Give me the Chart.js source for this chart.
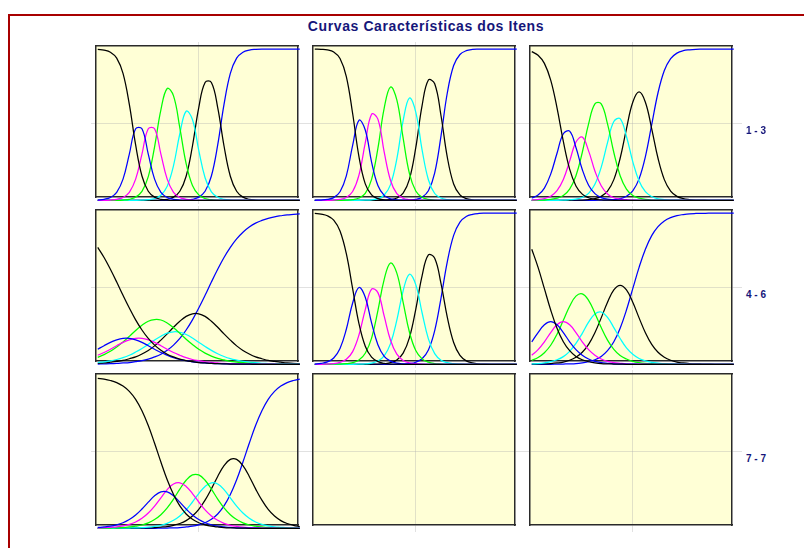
<!DOCTYPE html>
<html>
<head>
<meta charset="utf-8">
<script src="https://cdn.jsdelivr.net/npm/chart.js@4/dist/chart.umd.min.js"></script>
<style>
  html, body { margin: 0; padding: 0; background: #ffffff; }
  body { position: relative; width: 804px; height: 548px; overflow: hidden;
         font-family: "Liberation Sans", Arial, sans-serif; }
  #frame { position: absolute; left: 8px; top: 14px; width: 900px; height: 700px;
           border: 2px solid #a80000; box-sizing: border-box; }
  #title { position: absolute; left: 226px; top: 18px; width: 400px; text-align: center;
           font-size: 14px; line-height: 16px; font-weight: bold; letter-spacing: 0.6px; color: #16167a; }
  .rowlabel { position: absolute; left: 746px; font-size: 10px; line-height: 11px;
              font-weight: bold; color: #16167a; white-space: nowrap; }
  canvas { position: absolute; }
</style>
</head>
<body>
<div id="frame"></div>
<div id="title">Curvas Características dos Itens</div>
<script>
// Ability scale (theta) shared by every item curve
const theta = [-4,-3.75,-3.5,-3.25,-3,-2.75,-2.5,-2.25,-2,-1.75,-1.5,-1.25,-1,-0.75,-0.5,-0.25,0,
               0.25,0.5,0.75,1,1.25,1.5,1.75,2,2.25,2.5,2.75,3,3.25,3.5,3.75,4];

// Category probability curves, one list per response category (1..7)
const item1 = [
  [.998,.993,.979,.940,.839,.634,.366,.161,.060,.021,.007, .002,0,0,0,0,0,0,0,0,0,0, 0,0,0,0,0,0,0,0,0,0,0],
  [.002,.007,.019,.053,.140,.306,.473,.473,.306,.140,.053, .019,.007,.002,0,0,0,0,0,0,0,0, 0,0,0,0,0,0,0,0,0,0,0],
  [0,0,.002,.007,.019,.053,.140,.306,.473,.473,.306, .140,.053,.019,.007,.002,0,0,0,0,0,0, 0,0,0,0,0,0,0,0,0,0,0],
  [0,0,0,0,.002,.007,.021,.059,.157,.354,.598, .739,.690,.479,.243,.098,.036,.012,.004,.001,0,0, 0,0,0,0,0,0,0,0,0,0,0],
  [0,0,0,0,0,0,0,.001,.004,.012,.034, .093,.229,.440,.589,.534,.330,.149,.056,.020,.007,.002, 0,0,0,0,0,0,0,0,0,0,0],
  [0,0,0,0,0,0,0,0,0,0,.002, .007,.021,.060,.159,.359,.613,.779,.779,.613,.359,.159, .060,.021,.007,.002,0,0,0,0,0,0,0],
  [0,0,0,0,0,0,0,0,0,0,0, 0,0,0,.002,.007,.021,.060,.161,.366,.634,.839, .940,.979,.993,.998,1,1,1,1,1,1,1]
];
const item2 = [
  [1,.998,.994,.980,.937,.818,.574,.289,.109,.036,.011, .003,.001,0,0,0,0,0,0,0,0,0, 0,0,0,0,0,0,0,0,0,0,0],
  [0,.002,.006,.018,.057,.162,.363,.529,.465,.253,.098, .033,.010,.003,.001,0,0,0,0,0,0,0, 0,0,0,0,0,0,0,0,0,0,0],
  [0,0,0,.002,.006,.019,.058,.167,.379,.569,.537, .318,.131,.044,.014,.005,.001,0,0,0,0,0, 0,0,0,0,0,0,0,0,0,0,0],
  [0,0,0,0,0,.001,.005,.015,.046,.139,.343, .610,.749,.664,.411,.177,.062,.020,.006,.002,0,0, 0,0,0,0,0,0,0,0,0,0,0],
  [0,0,0,0,0,0,0,0,.001,.003,.011, .035,.104,.274,.527,.676,.583,.334,.136,.045,.015,.005, .001,0,0,0,0,0,0,0,0,0,0],
  [0,0,0,0,0,0,0,0,0,0,0, .001,.005,.015,.047,.140,.348,.626,.795,.771,.559,.284, .108,.036,.011,.003,.001,0,0,0,0,0,0],
  [0,0,0,0,0,0,0,0,0,0,0, 0,0,0,0,.002,.006,.020,.063,.182,.426,.711, .891,.964,.989,.997,.999,1,1,1,1,1,1]
];
const item3 = [
  [.983,.959,.905,.794,.611,.389,.206,.095,.041,.017,.007, .003,.001,0,0,0,0,0,0,0,0,0, 0,0,0,0,0,0,0,0,0,0,0],
  [.015,.035,.081,.173,.311,.440,.457,.349,.204,.100,.044, .018,.008,.004,.001,0,0,0,0,0,0,0, 0,0,0,0,0,0,0,0,0,0,0],
  [.002,.005,.012,.027,.064,.138,.259,.385,.418,.327,.194, .096,.042,.017,.008,.004,.001,0,0,0,0,0, 0,0,0,0,0,0,0,0,0,0,0],
  [0,.001,.002,.006,.014,.032,.074,.162,.316,.505,.638, .638,.505,.316,.162,.074,.032,.014,.006,.002,.001,0, 0,0,0,0,0,0,0,0,0,0,0],
  [0,0,0,0,0,.001,.004,.008,.019,.046,.106, .218,.381,.521,.540,.422,.256,.128,.057,.025,.010,.005, .002,.001,0,0,0,0,0,0,0,0,0],
  [0,0,0,0,0,0,0,.001,.002,.005,.011, .026,.061,.137,.278,.473,.648,.716,.648,.473,.278,.137, .061,.026,.011,.005,.002,.001,0,0,0,0,0],
  [0,0,0,0,0,0,0,0,0,0,0, .001,.002,.005,.011,.027,.063,.142,.289,.5,.711,.858, .937,.973,.989,.995,.998,.999,1,1,1,1,1]
];
const item4 = [
  [.773,.706,.628,.544,.456,.372,.294,.227,.171,.127,.093, .067,.049,.035,.025,.018,.012,.009,.006,.004,.003,.002, .002,.001,.001,0,0,0,0,0,0,0,0],
  [.100,.123,.145,.162,.172,.172,.162,.145,.123,.100,.078, .060,.044,.032,.024,.017,.013,.009,.006,.005,.003,.002, .001,.001,.001,.001,0,0,0,0,0,0,0],
  [.060,.078,.100,.123,.145,.162,.172,.172,.162,.145,.123, .100,.078,.060,.044,.032,.024,.017,.013,.009,.006,.005, .003,.002,.001,.001,.001,.001,.001,0,0,0,0],
  [.046,.064,.086,.114,.148,.185,.224,.258,.285,.296,.293, .273,.242,.205,.166,.131,.099,.074,.054,.039,.029,.020, .015,.011,.007,.005,.003,.003,.002,.002,.001,.001,.001],
  [.012,.017,.023,.032,.044,.060,.081,.105,.132,.161,.186, .206,.215,.212,.197,.174,.146,.118,.092,.070,.052,.038, .028,.020,.015,.011,.007,.005,.003,.002,.002,.001,.001],
  [.007,.009,.014,.019,.026,.037,.049,.068,.092,.122,.160, .201,.245,.285,.317,.334,.334,.317,.285,.245,.201,.160, .122,.092,.068,.049,.037,.026,.019,.014,.009,.007,.004],
  [.002,.003,.004,.006,.009,.012,.018,.025,.035,.049,.067, .093,.127,.171,.227,.294,.372,.456,.544,.628,.706,.773, .829,.873,.907,.933,.951,.965,.975,.982,.988,.991,.994]
];
const item5 = [
  [.998,.993,.982,.953,.881,.731,.5,.269,.119,.047,.018, .007,.002,.001,0,0,0,0,0,0,0,0, 0,0,0,0,0,0,0,0,0,0,0],
  [.002,.007,.016,.042,.105,.232,.405,.508,.443,.274,.130, .053,.021,.008,.003,.001,0,0,0,0,0,0, 0,0,0,0,0,0,0,0,0,0,0],
  [0,0,.002,.004,.013,.033,.084,.194,.362,.497,.474, .318,.159,.067,.026,.010,.004,.001,0,0,0,0, 0,0,0,0,0,0,0,0,0,0,0],
  [0,0,0,.001,.001,.004,.011,.028,.073,.173,.355, .562,.670,.603,.409,.212,.091,.036,.014,.005,.002,0, 0,0,0,0,0,0,0,0,0,0,0],
  [0,0,0,0,0,0,0,.001,.003,.008,.022, .056,.137,.292,.486,.595,.527,.341,.168,.071,.027,.011, .004,.001,0,0,0,0,0,0,0,0,0],
  [0,0,0,0,0,0,0,0,0,.001,.001, .004,.011,.029,.074,.177,.364,.585,.723,.701,.533,.310, .144,.059,.023,.009,.003,.001,0,0,0,0,0],
  [0,0,0,0,0,0,0,0,0,0,0, 0,0,0,.002,.005,.014,.037,.095,.223,.438,.679, .852,.940,.977,.991,.997,.999,1,1,1,1,1]
];
const item6 = [
  [.761,.641,.5,.359,.239,.149,.090,.052,.030,.017,.010, .005,.003,.002,.001,0,0,0,0,0,0,0, 0,0,0,0,0,0,0,0,0,0,0],
  [.149,.210,.261,.282,.261,.210,.149,.097,.060,.035,.020, .012,.007,.003,.002,.002,.001,0,0,0,0,0, 0,0,0,0,0,0,0,0,0,0,0],
  [.060,.097,.149,.210,.261,.282,.261,.210,.149,.097,.060, .035,.020,.012,.007,.003,.002,.002,.001,0,0,0, 0,0,0,0,0,0,0,0,0,0,0],
  [.026,.045,.077,.126,.199,.291,.384,.451,.466,.423,.338, .243,.160,.099,.058,.035,.020,.011,.006,.004,.002,.001, 0,0,0,0,0,0,0,0,0,0,0],
  [.003,.005,.010,.018,.030,.051,.086,.138,.205,.279,.333, .346,.310,.243,.171,.109,.067,.039,.023,.013,.008,.004, .003,.002,.001,0,0,0,0,0,0,0,0],
  [.001,.002,.003,.005,.009,.015,.027,.047,.080,.132,.209, .307,.410,.492,.522,.492,.410,.307,.209,.132,.080,.047, .027,.015,.009,.005,.003,.002,.001,0,0,0,0],
  [0,0,0,0,.001,.002,.003,.005,.010,.017,.030, .052,.090,.149,.239,.359,.5,.641,.761,.851,.910,.948, .970,.983,.990,.995,.997,.998,.999,1,1,1,1]
];
const item7 = [
  [.991,.986,.977,.963,.940,.905,.852,.777,.679,.562,.438, .321,.223,.148,.095,.060,.037,.023,.014,.009,.005,.003, .002,.001,0,0,0,0,0,0,0,0,0],
  [.006,.009,.014,.023,.037,.058,.088,.128,.173,.215,.241, .241,.215,.173,.128,.088,.058,.037,.023,.014,.009,.006, .003,.002,.002,.001,0,0,0,0,0,0,0],
  [.002,.004,.007,.010,.016,.026,.042,.066,.101,.147,.202, .256,.293,.301,.277,.230,.174,.122,.082,.053,.033,.020, .013,.008,.005,.003,.002,.001,.001,0,0,0,0],
  [.001,.001,.002,.003,.006,.009,.014,.022,.036,.058,.090, .135,.193,.259,.318,.353,.353,.318,.259,.193,.135,.090, .058,.036,.022,.014,.009,.006,.003,.002,.001,.001,0],
  [0,0,0,.001,.001,.002,.003,.005,.008,.013,.020, .033,.053,.082,.122,.174,.230,.277,.301,.293,.256,.202, .147,.101,.066,.042,.026,.016,.010,.007,.004,.002,.002],
  [0,0,0,0,0,0,.001,.002,.003,.005,.008, .012,.020,.032,.051,.081,.125,.186,.261,.343,.414,.456, .456,.414,.343,.261,.186,.125,.081,.051,.032,.020,.012],
  [0,0,0,0,0,0,0,0,0,0,.001, .002,.003,.005,.009,.014,.023,.037,.060,.095,.148,.223, .321,.438,.562,.679,.777,.852,.905,.940,.963,.977,.986]
];

// Panels in reading order (3 per row); the last two cells of the grid are empty
const panelItems = [item1, item2, item3, item4, item5, item6, item7, null, null];
const rowLabels = ['1 - 3', '4 - 6', '7 - 7'];

// Reference lines drawn in every panel
const gridTheta = [0];
const gridProb = [0.51];

// Styling
const categoryColors = ['#000000', '#0000ff', '#ff00ff', '#00ff00', '#00ffff', '#000000', '#0000ff'];
const PANEL_BG = 'rgb(255,255,214)';
const GRID_COLOR = 'rgba(175,175,175,0.38)';
const FRAME_COLOR = '#2a2a2a';

// Layout of the 3x3 grid (plot-area corners in page pixels)
const colLeft = [96, 313, 530];
const rowTop = [46, 210, 374];
const PLOT_W = 202, PLOT_H = 151;
const M = { left: 6, right: 14, top: 5, bottom: 8 };
const X_MIN = -4.07, X_MAX = 3.93;
const Y_MIN = 0.022, Y_MAX = 1.02;

const panelFill = {
  id: 'panelFill',
  beforeDraw(chart) {
    const { ctx, chartArea: a } = chart;
    ctx.save();
    ctx.fillStyle = PANEL_BG;
    ctx.fillRect(a.left, a.top, a.right - a.left, a.bottom - a.top);
    ctx.restore();
  }
};

function axis(position, isX, tickLen, onArea, size) {
  return {
    type: 'linear',
    position: position,
    min: isX ? X_MIN : Y_MIN,
    max: isX ? X_MAX : Y_MAX,
    afterBuildTicks: (s) => { s.ticks = (isX ? gridTheta : gridProb).map(v => ({ value: v })); },
    afterFit: (s) => { if (isX) { s.height = size; } else { s.width = size; } },
    ticks: { display: false },
    grid: { color: GRID_COLOR, lineWidth: 1, drawTicks: true, tickLength: tickLen, drawOnChartArea: onArea },
    border: { display: true, color: FRAME_COLOR, width: 1.5 }
  };
}

function drawPanel(row, col, series) {
  const canvas = document.createElement('canvas');
  canvas.width = PLOT_W + M.left + M.right;
  canvas.height = PLOT_H + M.top + M.bottom;
  canvas.style.left = (colLeft[col] - M.left) + 'px';
  canvas.style.top = (rowTop[row] - M.top) + 'px';
  document.body.appendChild(canvas);

  const datasets = (series || []).map((vals, k) => ({
    data: theta.map((t, i) => ({ x: t, y: vals[i] })),
    showLine: true,
    borderColor: categoryColors[k],
    borderWidth: 1.25,
    pointRadius: 0,
    tension: 0.4,
    fill: false,
    clip: false
  }));

  new Chart(canvas, {
    type: 'scatter',
    data: { datasets },
    options: {
      responsive: false,
      animation: false,
      events: [],
      layout: { padding: 0 },
      elements: { line: { capBezierPoints: false } },
      plugins: { legend: { display: false }, tooltip: { enabled: false } },
      scales: {
        x: axis('bottom', true, 7, true, M.bottom),
        xTop: axis('top', true, 4, false, M.top),
        y: axis('left', false, 5, true, M.left),
        yRight: axis('right', false, 10, false, M.right)
      }
    },
    plugins: [panelFill]
  });
}

panelItems.forEach((series, idx) => drawPanel(Math.floor(idx / 3), idx % 3, series));

// Row labels to the right of each row of panels
const labelTop = [125, 289, 453];
rowLabels.forEach((txt, r) => {
  const d = document.createElement('div');
  d.className = 'rowlabel';
  d.style.top = labelTop[r] + 'px';
  d.textContent = txt;
  document.body.appendChild(d);
});
</script>
</body>
</html>
